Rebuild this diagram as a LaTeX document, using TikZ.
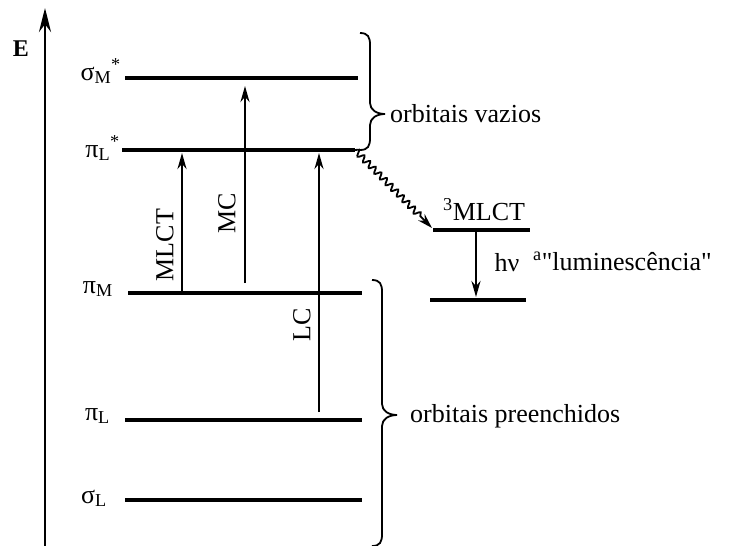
\documentclass[tikz,border=0pt]{standalone}
\usepackage{fontspec}
\setmainfont{Liberation Serif}
\usetikzlibrary{arrows.meta,decorations.pathmorphing}
\tikzset{
  level/.style={line width=3.2pt},
  trans/.style={line width=2.4pt,-{Stealth[length=16pt,width=9pt]}},
  lbl/.style={font=\fontsize{26}{30}\selectfont,inner sep=0pt},
  brace/.style={line width=1.8pt},
}
% right brace: x, top, tip, bottom
\newcommand{\levelbrace}[4]{%
  \draw[brace] (#1-10,#2) .. controls (#1-2,#2) and (#1,#2+4) .. (#1,#2+12)
    -- (#1,#3-11) .. controls (#1,#3-4) and (#1+7,#3) .. (#1+15,#3)
    .. controls (#1+7,#3) and (#1,#3+4) .. (#1,#3+11)
    -- (#1,#4-12) .. controls (#1,#4-4) and (#1-2,#4) .. (#1-10,#4);}

\begin{document}
\begin{tikzpicture}[x=1pt,y=-1pt]
  \useasboundingbox (0,0) rectangle (739,546);
  % energy axis
  \coordinate (axbot) at (45,546);
  \coordinate (axtop) at (45,8);
  \draw[line width=2.8pt,-{Stealth[length=24pt,width=12pt]}] (axbot) -- (axtop);
  \node[lbl,anchor=base] (E) at (21,56) {\fontsize{24}{28}\selectfont\textbf{E}};

  % levels
  \foreach \n/\a/\b/\y in {sMs/125/358/78, piLs/122/355/150, piM/128/362/293,
      piL/125/362/420, sL/125/362/500, tMLCT/433/530/230, gnd/430/526/300}
    \draw[level] (\a,\y) coordinate (\n) -- (\b,\y) coordinate (\n-r);

  \node[lbl,anchor=base east] (sMs-l) at (121,80) {σ\textsubscript{M}\textsuperscript{*}};
  \node[lbl,anchor=base east] (piLs-l) at (120,157) {π\textsubscript{L}\textsuperscript{*}};
  \node[lbl,anchor=base east] (piM-l) at (113,293) {π\textsubscript{M}};
  \node[lbl,anchor=base east] (piL-l) at (110,420) {π\textsubscript{L}};
  \node[lbl,anchor=base east] (sL-l) at (107,503) {σ\textsubscript{L}};
  \node[lbl,anchor=base west] (tMLCT-l) at (443,220) {\textsuperscript{3}MLCT};

  % transitions
  \draw[trans,shorten >=3pt] (182,0 |- piM) -- (182,0 |- piLs);
  \draw[trans,shorten <=10pt,shorten >=8pt] (245,0 |- piM) -- (245,0 |- sMs);
  \draw[trans,shorten <=8pt,shorten >=3pt] (319,0 |- piL) -- (319,0 |- piLs);
  \draw[trans,shorten >=3pt] (476,0 |- tMLCT) -- (476,0 |- gnd);
  \draw[line width=1.8pt,-{Stealth[length=15pt,width=9pt]},decorate,
    decoration={snake,amplitude=3pt,segment length=8pt,post length=15pt}]
    (piLs-r) -- ([xshift=-1pt,yshift=2pt]tMLCT);

  \node[lbl,rotate=90] (mlct) at (165,245) {MLCT};
  \node[lbl,rotate=90] (mc) at (227,213) {MC};
  \node[lbl,rotate=90] (lc) at (302,325) {LC};
  \node[lbl] (hv) at (507,263) {hν};
  \node[lbl,anchor=base west] (lum) at (533,270)
    {\textsuperscript{a}\textquotedbl luminescência\textquotedbl};

  % braces
  \levelbrace{370}{33}{114}{150}
  \levelbrace{382}{280}{415}{546}
  \node[lbl,anchor=base west] (vazios) at (390,122) {orbitais vazios};
  \node[lbl,anchor=base west] (preench) at (410,422) {orbitais preenchidos};
\end{tikzpicture}
\end{document}
